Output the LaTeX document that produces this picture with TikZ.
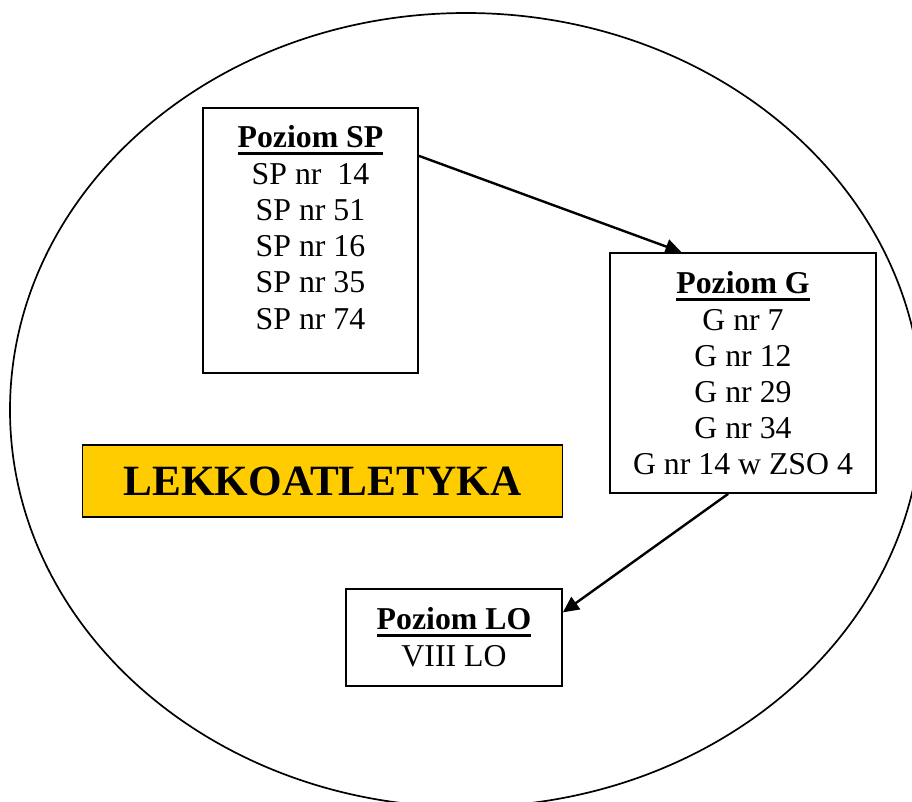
\documentclass[tikz,border=0pt]{standalone}
\usepackage{fontspec}
\setmainfont{Liberation Serif}
\usetikzlibrary{arrows.meta}
\definecolor{sportyellow}{RGB}{255,204,0}
\newcommand{\headul}[1]{\setbox0\hbox{\textbf{#1}}\rlap{\copy0}\rule[-7.5pt]{\wd0}{3pt}}
\newcommand{\levellist}[4]{\parbox[c][#2][t]{#1}{\centering\fontsize{31.8}{36}\selectfont
	\rule{0pt}{40pt}\headul{#3}\\[1pt]#4}}
\tikzset{
	levelbox/.style={draw, line width=1.7pt, inner sep=0pt, fill=white},
	link/.style={line width=2.4pt, -{Triangle[length=16pt,width=15pt]}}
}

\begin{document}
\begin{tikzpicture}[x=1pt, y=-1pt]
		%%%%% START %%%%%
		\clip (0, 0) rectangle (912, 802);
		
		\draw[line width=1.7pt] (466, 410) ellipse [x radius=456pt, y radius=397pt];
		
		\node[levelbox] (sp) at (310.5, 240.5) {\levellist{215pt}{265pt}{Poziom SP}{SP nr~ 14\\SP nr 51\\SP nr 16\\SP nr 35\\SP nr 74}};
		\node[levelbox] (g) at (743, 373) {\levellist{266pt}{240pt}{Poziom G}{G nr 7\\G nr 12\\G nr 29\\G nr 34\\G nr 14 w ZSO 4}};
		\node[levelbox] (lo) at (454, 637.5) {\levellist{216pt}{97pt}{Poziom LO}{VIII LO}};
		
		\node[draw, line width=1.7pt, fill=sportyellow, minimum width=480pt, minimum height=72pt, inner sep=0pt,
			font=\fontsize{43.2}{48}\selectfont\bfseries] (sport) at (322.5, 481) {LEKKOATLETYKA};
		
		\draw[link] (sp.38) -- (g.117.5);
		\draw[link] (g.263.8) -- (lo.13.3);
		
		%%%%% END %%%%%
	\end{tikzpicture}
\end{document}
